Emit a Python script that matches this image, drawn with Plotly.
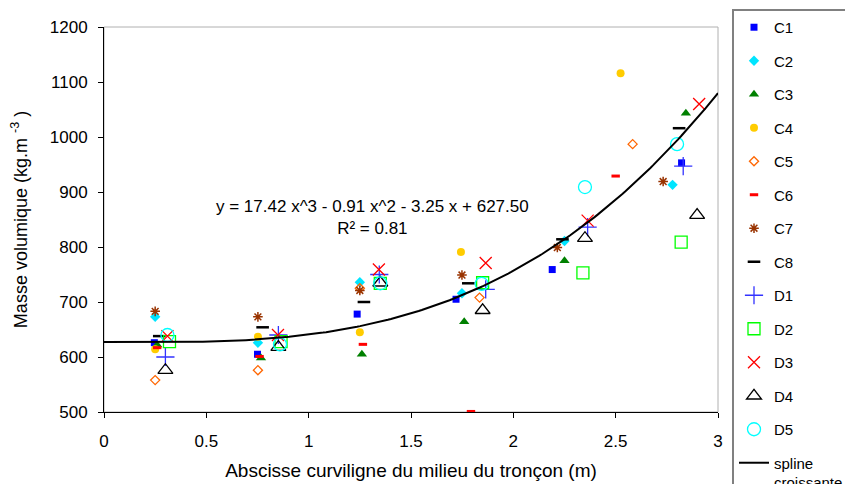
import plotly.graph_objects as go
import numpy as np

# ---- data ----
series_names = ["C1", "C2", "C3", "C4", "C5", "C6", "C7", "C8", "D1", "D2", "D3", "D4", "D5"]

C1_x = [0.246, 0.75, 1.237, 1.72, 2.19, 2.822]
C1_y = [626, 605, 678, 705, 759, 953]
C2_x = [0.25, 0.752, 1.25, 1.749, 2.25, 2.778]
C2_y = [673, 626, 736, 716, 811, 913]
C3_x = [0.26, 0.767, 1.26, 1.76, 2.25, 2.843]
C3_y = [622, 598, 605, 664, 775, 1043]
C4_x = [0.25, 0.752, 1.25, 1.744, 2.524]
C4_y = [614, 637, 645, 791, 1116]
C5_x = [0.25, 0.752, 1.25, 1.835, 2.583]
C5_y = [558, 576, 725, 708, 987]
C6_x = [0.26, 0.76, 1.265, 1.793, 2.50]
C6_y = [617, 601, 623, 501, 929]
C7_x = [0.25, 0.752, 1.25, 1.749, 2.215, 2.732]
C7_y = [683, 673, 721, 749, 799, 919]
C8_x = [0.27, 0.775, 1.27, 1.78, 2.24, 2.81]
C8_y = [638, 654, 700, 734, 814, 1016]
D1_x = [0.30, 0.852, 1.345, 1.865, 2.363, 2.83]
D1_y = [600, 640, 750, 723, 836, 947]
D2_x = [0.32, 0.865, 1.35, 1.85, 2.34, 2.82]
D2_y = [628, 628, 734, 735, 753, 809]
D3_x = [0.31, 0.85, 1.343, 1.865, 2.363, 2.908]
D3_y = [638, 640, 759, 771, 848, 1060]
D4_x = [0.30, 0.852, 1.35, 1.85, 2.35, 2.898]
D4_y = [576, 618, 735, 685, 816, 858]
D5_x = [0.31, 0.86, 1.35, 1.845, 2.35, 2.80]
D5_y = [640, 623, 734, 733, 909, 987]

# fitted cubic shown on the chart: y = a x^3 + b x^2 + c x + d
fit_coefs = [17.42, -0.91, -3.25, 627.50]
fit_x_range = [0, 3]

xs = [C1_x, C2_x, C3_x, C4_x, C5_x, C6_x, C7_x, C8_x, D1_x, D2_x, D3_x, D4_x, D5_x]
ys = [C1_y, C2_y, C3_y, C4_y, C5_y, C6_y, C7_y, C8_y, D1_y, D2_y, D3_y, D4_y, D5_y]

styles = [
    dict(symbol="square", size=7, color="#0000FF", line=dict(width=0)),
    dict(symbol="diamond", size=8, color="#00E5FF", line=dict(width=0)),
    dict(symbol="triangle-up", size=9, color="#008000", line=dict(width=0)),
    dict(symbol="circle", size=8, color="#FFCC00", line=dict(width=0)),
    dict(symbol="diamond-open", size=7, color="#FF6600", line=dict(width=1.3, color="#FF6600")),
    dict(symbol="line-ew", size=6, color="#FF0000", line=dict(width=3, color="#FF0000")),
    dict(symbol="asterisk", size=8, color="#993300", line=dict(width=1.5, color="#993300")),
    dict(symbol="line-ew", size=9, color="#000000", line=dict(width=2.5, color="#000000")),
    dict(symbol="cross-thin", size=13, color="#3333FF", line=dict(width=1.3, color="#3333FF")),
    dict(symbol="square-open", size=12, color="#00FF00", line=dict(width=1.3, color="#00FF00")),
    dict(symbol="x-thin", size=12, color="#FF0000", line=dict(width=1.3, color="#FF0000")),
    dict(symbol="triangle-up-open", size=13, color="#000000", line=dict(width=1.3, color="#000000")),
    dict(symbol="circle-open", size=13, color="#00FFFF", line=dict(width=1.3, color="#00FFFF")),
]

FONT = "Liberation Sans, Arial, sans-serif"
fig = go.Figure()

for name, x, y, st in zip(series_names, xs, ys, styles):
    fig.add_trace(go.Scatter(x=x, y=y, mode="markers", name=name, legendgroup=name,
                             marker=st, cliponaxis=False))

xf = np.linspace(fit_x_range[0], fit_x_range[1], 200)
yf = np.polyval(fit_coefs, xf)
fig.add_trace(go.Scatter(x=xf, y=yf, mode="lines", name="spline<br>croissante",
                         legendgroup="spline", line=dict(color="black", width=2)))

fig.add_annotation(x=1.314, y=853, xref="x", yref="y", showarrow=False,
                   text="y = 17.42 x^3 - 0.91 x^2 - 3.25 x + 627.50<br>R² = 0.81",
                   font=dict(family=FONT, size=17, color="black"), align="center")

fig.add_shape(type="rect", xref="paper", yref="paper", x0=0, x1=1, y0=0, y1=1,
              line=dict(color="#B0B0B0", width=1), layer="below")

# page body has an 8px margin, so the figure is offset by 8px right/down
fig.update_layout(
    width=845, height=476,
    margin=dict(l=96, r=135, t=19, b=72, autoexpand=False),
    paper_bgcolor="white", plot_bgcolor="white",
    font=dict(family=FONT, size=17, color="black"),
    showlegend=True,
    legend=dict(x=1.0228, y=1.0468, xanchor="left", yanchor="top",
                bordercolor="#808080", borderwidth=2, bgcolor="white",
                font=dict(family=FONT, size=15, color="black"),
                tracegroupgap=11, valign="top", maxheight=700,
                entrywidth=100, entrywidthmode="pixels"),
    xaxis=dict(range=[0, 3], dtick=0.5, tick0=0, showgrid=False, zeroline=False,
               showline=True, linecolor="black", linewidth=1,
               ticks="outside", ticklen=5, tickcolor="black",
               tickfont=dict(size=17), ticklabelstandoff=9,
               title=dict(text="Abscisse curviligne du milieu du tronçon (m)",
                          font=dict(size=19), standoff=13)),
    yaxis=dict(range=[500, 1200], dtick=100, showgrid=False, zeroline=False,
               showline=True, linecolor="black", linewidth=1,
               ticks="outside", ticklen=5, tickcolor="black",
               tickfont=dict(size=17), ticklabelstandoff=7,
               title=dict(text="Masse volumique (kg.m <sup>-3</sup> )",
                          font=dict(size=18), standoff=17)),
)

fig.write_html("out.html")
